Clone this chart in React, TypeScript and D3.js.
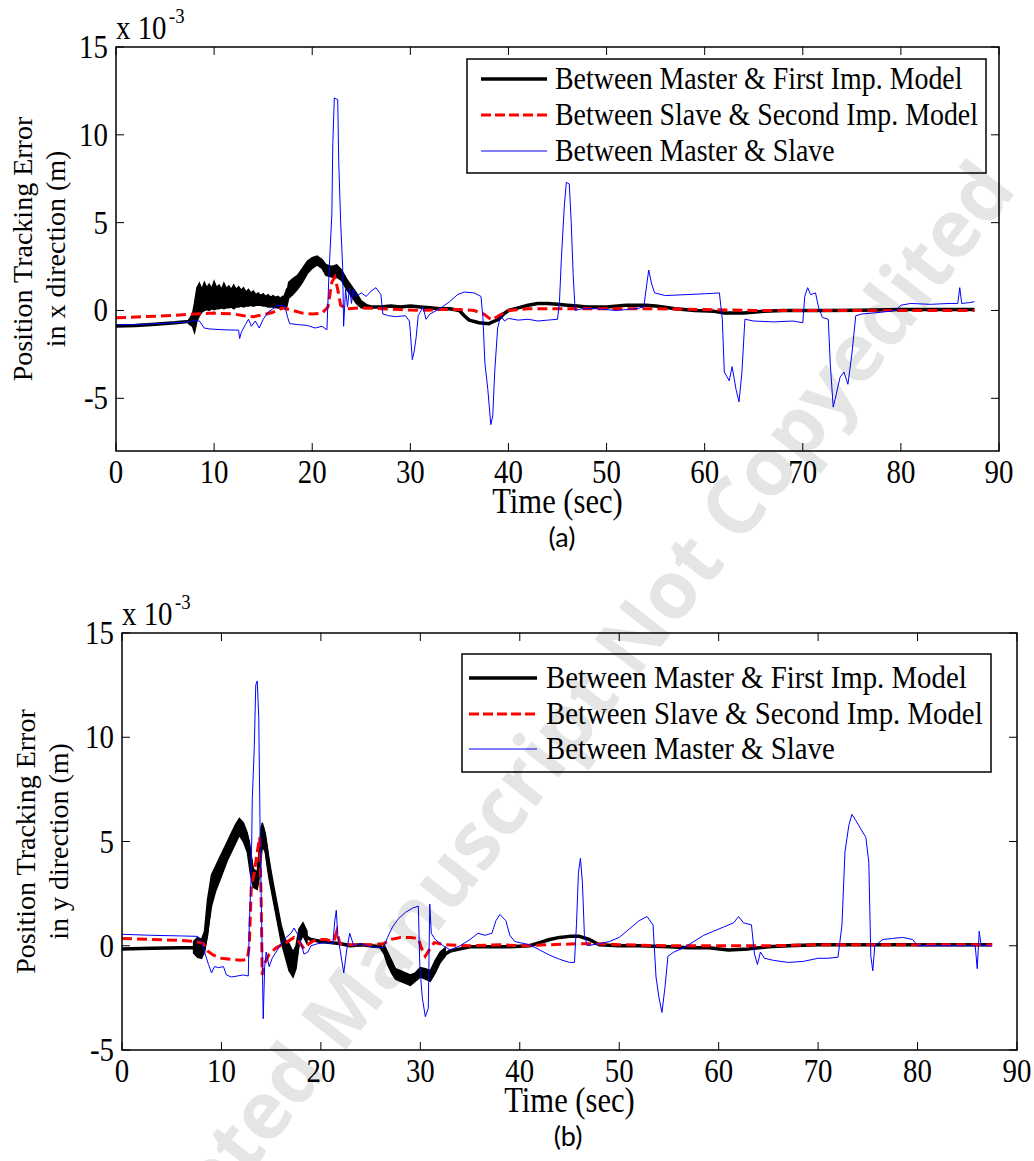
import React from "react";
import * as d3 from "d3";

type P2 = [number, number];
type P3 = [number, number, number];

const xTicks = [0, 10, 20, 30, 40, 50, 60, 70, 80, 90];
const yTicksA = [-5, 0, 5, 10, 15];
const yTicksB = [-5, 0, 5, 10, 15];
const legendLabels = [
  "Between Master & First Imp. Model",
  "Between Slave & Second Imp. Model",
  "Between Master & Slave",
];

// ---------- Panel (a): x direction ----------
const blackA: P2[] = [
  [0, -0.88], [2, -0.85], [4, -0.78], [6, -0.7], [7.5, -0.62], [8, -0.3], [8.5, 0.5], [9, 0.8],
  [10, 0.75], [11, 0.7], [12, 0.65], [13, 0.6], [14, 0.55], [15, 0.5], [16, 0.5], [17, 0.45],
  [17.5, 1.2], [18, 1.4], [18.5, 1.6], [19, 2.0], [19.5, 2.45], [20, 2.7], [20.5, 2.85], [21, 2.65],
  [21.4, 2.3], [22, 2.2], [22.5, 2.25], [23, 2.0], [23.5, 1.5], [24, 1.1], [24.5, 0.7], [25, 0.35],
  [26, 0.2], [27, 0.2], [28, 0.25], [29, 0.2], [30, 0.25], [31, 0.2], [32, 0.15], [33, 0.1],
  [34, 0.1], [35, 0.0], [35.5, -0.3], [36, -0.55], [37, -0.7], [38, -0.75], [39, -0.5], [39.5, -0.2],
  [40, 0], [41, 0.15], [42, 0.3], [43, 0.4], [44, 0.4], [45, 0.35], [46, 0.3], [47, 0.25], [48, 0.2],
  [50, 0.2], [52, 0.3], [54, 0.3], [55, 0.25], [57, 0.1], [59, 0.0], [61, -0.05], [62, -0.15],
  [64, -0.15], [66, -0.05], [68, 0], [72, 0.0], [76, 0.02], [80, 0.05], [84, 0.05], [87.5, 0.05],
];
const bandA1: P3[] = [
  [7.4, -0.75, -0.55], [7.8, -0.9, -0.2], [8.0, -1.25, 0.4], [8.25, -0.6, 1.3], [8.5, -0.3, 1.55],
  [8.75, -0.1, 1.2], [9.0, 0.0, 1.6], [9.25, 0.05, 1.3], [9.5, 0.0, 1.5], [9.75, 0.1, 1.25],
  [10, 0.05, 1.65], [10.25, 0.1, 1.3], [10.5, 0.1, 1.45], [10.75, 0.15, 1.2], [11, 0.1, 1.55],
  [11.25, 0.15, 1.25], [11.5, 0.15, 1.4], [11.75, 0.2, 1.2], [12, 0.1, 1.45], [12.25, 0.2, 1.2],
  [12.5, 0.2, 1.35], [12.75, 0.25, 1.15], [13, 0.2, 1.3], [13.25, 0.25, 1.05], [13.5, 0.25, 1.2],
  [13.75, 0.3, 1.0], [14, 0.25, 1.1], [14.25, 0.3, 0.9], [14.5, 0.3, 1.0], [14.75, 0.3, 0.85],
  [15, 0.25, 0.95], [15.25, 0.25, 0.8], [15.5, 0.2, 0.9], [15.75, 0.2, 0.75], [16, 0.2, 0.85],
  [16.25, 0.15, 0.75], [16.5, 0.15, 0.8], [16.75, 0.1, 0.7], [17, 0.1, 0.8], [17.25, 0.15, 0.75],
  [17.4, 0.2, 0.9], [17.6, 0.7, 1.6], [18, 0.9, 1.8], [18.5, 1.2, 2.0], [19, 1.6, 2.4],
  [19.5, 2.1, 2.8], [20, 2.4, 3.0], [20.5, 2.6, 3.1], [21, 2.4, 2.9], [21.4, 2.0, 2.6],
  [22, 1.9, 2.5], [22.5, 1.9, 2.6], [23, 1.7, 2.3], [23.5, 1.2, 1.8], [24, 0.8, 1.4],
  [24.5, 0.4, 1.0], [25, 0.15, 0.55], [25.5, 0.1, 0.35],
];
const redA: P2[] = [
  [0, -0.42], [3, -0.35], [6, -0.28], [8, -0.2], [10, -0.15], [12, -0.2], [13, -0.3], [14, -0.35],
  [15, -0.25], [16, -0.1], [17, 0.15], [18, 0.0], [19, -0.15], [20, -0.2], [21, -0.15], [21.6, 0.2],
  [22, 1.6], [22.3, 1.9], [22.6, 1.2], [22.9, 0.3], [23.5, 0.1], [25, 0.15], [27, 0.1], [29, 0.05],
  [31, 0.0], [33, 0.05], [35, 0.05], [36.5, 0.0], [37.5, -0.2], [38.3, -0.55], [39, -0.3], [40, 0.0],
  [42, 0.1], [45, 0.1], [50, 0.1], [55, 0.1], [60, 0.05], [65, 0.0], [70, 0.0], [75, 0.0], [80, 0.0],
  [85, 0.0], [87.5, 0.0],
];
const blueA: P2[] = [
  [0, -0.82], [3, -0.78], [6, -0.7], [7.5, -0.65], [8, -0.55], [8.5, -0.6], [9, -1.0], [9.5, -1.05],
  [11, -1.1], [12.5, -1.12], [12.6, -1.6], [12.8, -1.2], [13.2, -0.8], [13.5, -0.5], [13.8, -0.9],
  [14.2, -0.6], [14.6, -1.0], [15.0, -0.5], [15.5, -0.1], [16, 0.1], [16.5, 0.3], [17.2, 0.25],
  [17.5, -0.4], [17.7, -0.75], [18.5, -0.8], [19.5, -0.85], [20.3, -1.0], [21, -0.9], [21.5, -1.1],
  [21.7, 2.0], [22.0, 5.5], [22.1, 9.5], [22.25, 12.1], [22.6, 12.0], [22.7, 8.5], [22.9, 5.0],
  [23.1, 2.5], [23.2, -0.9], [23.4, 1.2], [23.6, 0.2], [23.8, 1.3], [24.0, 0.4], [24.2, 1.2],
  [24.5, 0.8], [25, 1.0], [25.5, 0.8], [26, 1.1], [26.5, 1.3], [27, 0.9], [27.2, -0.2], [27.8, -0.3],
  [28.5, -0.35], [29.5, -0.3], [29.9, -0.6], [30.0, -1.2], [30.2, -2.8], [30.4, -2.3], [30.6, -1.5],
  [30.8, -0.3], [31.0, -0.1], [31.3, 0.2], [31.6, -0.5], [32, -0.2], [33, 0.1], [34, 0.5], [34.8, 0.9],
  [35.5, 1.05], [36.5, 1.0], [37.2, 0.8], [37.4, -0.4], [37.6, -3.0], [37.9, -4.5], [38.2, -6.5],
  [38.4, -6.0], [38.6, -3.5], [38.9, -1.0], [39.2, -0.3], [39.6, -0.6], [40, -0.45], [41, -0.55],
  [42, -0.5], [43, -0.6], [44, -0.55], [45, -0.5], [45.2, 0.5], [45.4, 3.0], [45.7, 6.0], [45.9, 7.3],
  [46.2, 7.2], [46.4, 5.0], [46.6, 2.0], [46.8, 0.0], [47.5, 0.1], [49, 0.1], [51, 0.0], [53, 0.1],
  [53.8, 0.2], [54.1, 1.5], [54.3, 2.3], [54.6, 1.5], [54.9, 1.0], [56, 0.85], [58, 0.9], [60, 0.95],
  [61.5, 1.0], [61.8, -0.5], [62, -3.5], [62.5, -4.0], [62.8, -3.2], [63.2, -4.5], [63.5, -5.2],
  [63.8, -3.5], [64.1, -0.5], [65, -0.6], [67, -0.65], [69, -0.6], [70, -0.7], [70.2, 0.8],
  [70.5, 1.3], [70.8, 0.9], [71.3, 1.0], [71.6, 0.2], [72, -0.4], [72.6, -0.5], [72.8, -3.0],
  [73.1, -5.5], [73.4, -4.8], [73.8, -3.8], [74.2, -3.5], [74.6, -4.2], [75.0, -2.5], [75.4, -0.3],
  [76, -0.2], [78, -0.1], [79.5, 0.0], [80, 0.3], [81, 0.4], [83, 0.35], [85, 0.4], [85.8, 0.4],
  [86.0, 1.3], [86.2, 0.4], [87, 0.45], [87.5, 0.5],
];

// ---------- Panel (b): y direction ----------
const blackB: P2[] = [
  [0, -0.15], [3, -0.12], [6, -0.1], [7.3, -0.1], [7.8, 0.0], [8.2, -0.2], [8.5, 0.5], [8.8, 1.8],
  [9.2, 3.0], [9.6, 3.6], [10, 4.0], [10.5, 4.6], [11, 5.1], [11.5, 5.6], [11.9, 5.9], [12.3, 5.6],
  [12.7, 5.0], [13.0, 3.8], [13.2, 3.1], [13.6, 3.0], [13.9, 4.5], [14.1, 5.7], [14.4, 5.0],
  [14.8, 3.6], [15.2, 2.6], [15.6, 1.6], [16.0, 0.6], [16.4, -0.1], [16.8, -0.6], [17.2, -1.0],
  [17.5, -0.6], [17.8, 0.4], [18.2, 0.8], [18.6, 0.4], [19, 0.3], [20, 0.2], [21, 0.15], [22, 0.1],
  [23, 0.0], [24, 0.05], [25, 0.0], [26, -0.05], [26.5, -0.4], [27, -1.0], [27.5, -1.35],
  [28, -1.45], [28.5, -1.55], [29, -1.7], [29.5, -1.5], [30, -1.25], [30.5, -1.35], [31, -1.45],
  [31.5, -1.0], [32, -0.55], [33, -0.25], [34, -0.15], [35, -0.05], [37, -0.05], [39, -0.05],
  [41, 0.0], [42, 0.15], [43, 0.3], [44, 0.4], [45, 0.45], [46, 0.45], [47, 0.3], [48, 0.05],
  [50, 0.0], [52, 0.0], [55, -0.05], [57, -0.1], [59, -0.1], [61, -0.2], [63, -0.15], [65, -0.05],
  [67, 0.0], [70, 0.05], [73, 0.05], [76, 0.05], [80, 0.05], [84, 0.05], [87.5, 0.05],
];
const bandB1: P3[] = [
  [7.2, -0.35, 0.2], [7.6, -0.55, 0.4], [8.0, -0.6, 0.3], [8.3, -0.3, 0.7], [8.6, 0.6, 2.2],
  [9.0, 1.9, 3.4], [9.4, 2.6, 3.8], [9.8, 3.1, 4.2], [10.2, 3.6, 4.6], [10.6, 4.1, 5.0],
  [11, 4.5, 5.4], [11.4, 4.9, 5.8], [11.8, 5.3, 6.1], [12.2, 5.0, 5.9], [12.6, 4.5, 5.4],
  [12.9, 3.5, 4.6], [13.2, 2.8, 3.7], [13.6, 2.7, 3.5], [13.9, 3.6, 5.0], [14.1, 4.8, 5.9],
  [14.4, 4.5, 5.4], [14.8, 3.2, 4.1], [15.2, 2.2, 3.0], [15.6, 1.2, 2.0], [16.0, 0.2, 1.0],
  [16.4, -0.5, 0.3], [16.8, -1.2, 0.1], [17.2, -1.5, -0.3], [17.5, -1.1, 0.0], [17.8, 0.1, 0.8],
  [18.2, 0.5, 1.1], [18.6, 0.1, 0.7],
];
const bandB2: P3[] = [
  [26.3, -0.3, 0.1], [26.7, -0.9, -0.3], [27.1, -1.3, -0.7], [27.5, -1.6, -1.1], [28, -1.7, -1.2],
  [28.5, -1.8, -1.3], [29, -1.9, -1.4], [29.5, -1.7, -1.3], [30, -1.5, -1.05], [30.5, -1.6, -1.1],
  [31, -1.7, -1.2], [31.5, -1.3, -0.7], [32, -0.8, -0.3], [32.5, -0.5, -0.1],
];
const redB: P2[] = [
  [0, 0.35], [3, 0.3], [6, 0.25], [7.5, 0.2], [8.2, 0.1], [8.6, -0.25], [9.2, -0.45], [10, -0.6],
  [11, -0.65], [12, -0.7], [12.6, -0.65], [12.8, 0.0], [13.0, 2.8], [13.3, 3.5], [13.6, 4.5],
  [13.85, 5.2], [14.0, 2.0], [14.1, -1.4], [14.3, -0.9], [14.8, -0.4], [15.5, -0.1], [16.5, 0.15],
  [17.3, 0.4], [17.8, 0.2], [18.3, -0.15], [18.8, 0.1], [19.5, 0.3], [20.5, 0.3], [21.3, 0.2],
  [21.6, 0.7], [21.9, 0.1], [23, 0.05], [25, 0.05], [26.3, 0.1], [27, 0.3], [28, 0.4], [29, 0.4],
  [29.8, 0.35], [30.1, -0.1], [30.5, -0.5], [30.9, -0.2], [31.4, 0.15], [32.5, 0.05], [35, 0.0],
  [38, 0.05], [40, 0.0], [43, 0.05], [46, 0.1], [48, 0.1], [50, 0.05], [55, 0.0], [60, 0.0],
  [65, 0.0], [70, 0.05], [75, 0.05], [80, 0.05], [85, 0.05], [87.5, 0.05],
];
const blueB: P2[] = [
  [0, 0.55], [3, 0.5], [6, 0.47], [7.6, 0.45], [8.0, 0.2], [8.3, -0.3], [8.7, -0.9], [9.0, -1.3],
  [9.3, -1.0], [9.7, -1.05], [10.2, -1.0], [10.5, -1.4], [11, -1.5], [11.6, -1.45], [12.2, -1.4],
  [12.7, -1.45], [12.8, 1.0], [13.0, 3.5], [13.1, 7.0], [13.3, 9.5], [13.45, 12.5], [13.6, 12.7],
  [13.75, 11.0], [13.9, 5.0], [14.05, 1.0], [14.2, -3.5], [14.35, -1.0], [14.5, -0.3], [14.8, -1.0],
  [15.1, -0.6], [15.5, -0.3], [16.0, 0.1], [16.5, 0.4], [17.0, 0.6], [17.3, 0.85], [17.6, 0.6],
  [17.9, 0.3], [18.3, -0.4], [18.7, -0.3], [19.0, 0.0], [19.7, 0.1], [20.5, 0.15], [21.2, 0.1],
  [21.4, 1.2], [21.55, 1.7], [21.7, 0.5], [22.0, -0.4], [22.3, -1.3], [22.6, -0.2], [22.9, 0.6],
  [23.3, 0.0], [24, 0.1], [25, -0.05], [26.3, -0.1], [26.7, 0.4], [27.2, 0.9], [27.8, 1.3],
  [28.5, 1.6], [29.2, 1.8], [29.8, 1.9], [29.95, -1.0], [30.2, -2.5], [30.5, -3.4], [30.8, -3.0],
  [30.95, 2.0], [31.1, 0.6], [31.5, 0.3], [32.3, 0.0], [33, -0.2], [34, 0.0], [35, 0.3], [35.8, 0.6],
  [36.5, 0.5], [37.2, 0.6], [37.6, 1.2], [38.0, 1.5], [38.6, 1.2], [39.0, 0.5], [39.5, 0.2],
  [41, 0.05], [42, -0.2], [43, -0.45], [44, -0.65], [45, -0.8], [45.5, -0.8], [45.7, 1.0],
  [45.9, 3.5], [46.1, 4.2], [46.3, 3.0], [46.5, 0.5], [46.8, 0.0], [48, 0.1], [49, 0.2], [50, 0.4],
  [51, 0.8], [52, 1.2], [52.8, 1.4], [53.4, 1.0], [53.7, -1.5], [54.0, -2.5], [54.3, -3.2],
  [54.6, -2.0], [54.9, -0.5], [55.5, -0.3], [56.5, -0.1], [57.5, 0.2], [58.5, 0.5], [59.5, 0.7],
  [60.5, 0.9], [61.5, 1.1], [62, 1.4], [62.5, 1.1], [63.3, 1.0], [63.6, -0.4], [63.9, -0.9],
  [64.2, -0.3], [64.6, -0.6], [65.5, -0.7], [67, -0.8], [68.5, -0.75], [70, -0.6], [71, -0.6],
  [72, -0.55], [72.4, 1.0], [72.7, 4.5], [73.1, 5.8], [73.4, 6.3], [73.8, 6.0], [74.3, 5.6],
  [74.8, 5.2], [75.1, 4.0], [75.3, -0.5], [75.5, -1.2], [75.7, 0.0], [76.5, 0.3], [77.5, 0.35],
  [78.5, 0.4], [79.5, 0.3], [80.0, 0.0], [82, 0.0], [84, 0.0], [85.8, 0.0], [86.0, -1.1], [86.2, 0.7],
  [86.4, 0.0], [87.4, 0.0],
];

const SERIF = '"Liberation Serif","Times New Roman",Times,serif';

function STxt(props: {
  x: number; y: number; size: number; sx?: number; anchor?: string; rotate?: number;
  family?: string; children: React.ReactNode;
}) {
  const { x, y, size, sx = 0.85, anchor = "start", rotate = 0, family = SERIF, children } = props;
  return (
    <text
      transform={`translate(${x},${y}) rotate(${rotate}) scale(${sx},1)`}
      fontSize={size}
      fontFamily={family}
      textAnchor={anchor as any}
      fill="#000"
    >
      {children}
    </text>
  );
}

type Panel = {
  id: string;
  left: number; right: number; top: number; bottom: number;
  yDomain: [number, number];
  yTicks: number[];
  black: P2[]; bands: P3[][]; red: P2[]; blue: P2[];
  legend: { x0: number; x1: number; y0: number; y1: number; rows: number[]; lx0: number; lx1: number; tx: number; fs: number };
  ylabel2: string;
  ylab1: number; ylab2: number;
  caption: string; captionX: number;
};

const panels: Panel[] = [
  {
    id: "a", left: 116, right: 999, top: 47, bottom: 451, yDomain: [-8, 15], yTicks: yTicksA,
    black: blackA, bands: [bandA1], red: redA, blue: blueA,
    legend: { x0: 467, x1: 986, y0: 59, y1: 173, rows: [79, 115, 151], lx0: 481, lx1: 547, tx: 555, fs: 31 },
    ylabel2: "in x direction (m)", ylab1: 32, ylab2: 65, caption: "(a)", captionX: 562,
  },
  {
    id: "b", left: 122, right: 1017, top: 633, bottom: 1050, yDomain: [-5, 15], yTicks: yTicksB,
    black: blackB, bands: [bandB1, bandB2], red: redB, blue: blueB,
    legend: { x0: 462, x1: 991, y0: 654, y1: 772, rows: [678, 714, 749], lx0: 469, lx1: 537, tx: 546, fs: 32 },
    ylabel2: "in y direction (m)", ylab1: 35, ylab2: 68, caption: "(b)", captionX: 568,
  },
];

function PanelView({ c }: { c: Panel }) {
  const x = d3.scaleLinear().domain([0, 90]).range([c.left, c.right]);
  const y = d3.scaleLinear().domain(c.yDomain).range([c.bottom, c.top]);
  const line = d3.line<P2>().x((d) => x(d[0])).y((d) => y(d[1]));
  const area = d3.area<P3>().x((d) => x(d[0])).y0((d) => y(d[1])).y1((d) => y(d[2]));
  const tl = 8;
  const cy = (c.top + c.bottom) / 2;
  const L = c.legend;
  return (
    <g>
      <defs>
        <clipPath id={`clip-${c.id}`}>
          <rect x={c.left} y={c.top} width={c.right - c.left} height={c.bottom - c.top} />
        </clipPath>
      </defs>
      <g clipPath={`url(#clip-${c.id})`}>
        {c.bands.map((b, i) => (
          <path key={i} d={area(b) || ""} fill="#000" stroke="#000" strokeWidth={1.5} />
        ))}
        <path d={line(c.black) || ""} fill="none" stroke="#000" strokeWidth={3.5} strokeLinejoin="round" />
        <path d={line(c.red) || ""} fill="none" stroke="#ff0000" strokeWidth={3} strokeDasharray="10,5" />
        <path d={line(c.blue) || ""} fill="none" stroke="#0000ff" strokeWidth={1} />
      </g>
      <rect x={c.left} y={c.top} width={c.right - c.left} height={c.bottom - c.top} fill="none" stroke="#000" strokeWidth={1.5} />
      {xTicks.map((t) => (
        <g key={`xt${t}`}>
          <line x1={x(t)} x2={x(t)} y1={c.bottom} y2={c.bottom - tl} stroke="#000" strokeWidth={1} />
          <line x1={x(t)} x2={x(t)} y1={c.top} y2={c.top + tl} stroke="#000" strokeWidth={1} />
          <STxt x={x(t)} y={c.bottom + 32} size={34} anchor="middle">{String(t)}</STxt>
        </g>
      ))}
      {c.yTicks.map((t) => (
        <g key={`yt${t}`}>
          <line x1={c.left} x2={c.left + tl} y1={y(t)} y2={y(t)} stroke="#000" strokeWidth={1} />
          <line x1={c.right} x2={c.right - tl} y1={y(t)} y2={y(t)} stroke="#000" strokeWidth={1} />
          <STxt x={c.left - 8} y={y(t) + 11} size={34} anchor="end">{String(t)}</STxt>
        </g>
      ))}
      <STxt x={c.left} y={c.top - 8} size={34} anchor="start">x 10</STxt>
      <STxt x={c.left + 53} y={c.top - 24} size={22} anchor="start">-3</STxt>
      <STxt x={(c.left + c.right) / 2} y={c.bottom + 62} size={36} anchor="middle">Time (sec)</STxt>
      <STxt x={c.ylab1} y={cy} size={28} sx={1} rotate={-90} anchor="middle">Position Tracking Error</STxt>
      <STxt x={c.ylab2} y={cy} size={28} sx={1} rotate={-90} anchor="middle">{c.ylabel2}</STxt>
      <STxt x={c.captionX} y={c.bottom + 96} size={27} sx={1} anchor="middle" family='Lato,"Open Sans",sans-serif'>{c.caption}</STxt>
      <rect x={L.x0} y={L.y0} width={L.x1 - L.x0} height={L.y1 - L.y0} fill="#fff" stroke="#000" strokeWidth={1.5} />
      <line x1={L.lx0} x2={L.lx1} y1={L.rows[0]} y2={L.rows[0]} stroke="#000" strokeWidth={3.5} />
      <line x1={L.lx0} x2={L.lx1} y1={L.rows[1]} y2={L.rows[1]} stroke="#ff0000" strokeWidth={3} strokeDasharray="10,4" />
      <line x1={L.lx0} x2={L.lx1} y1={L.rows[2]} y2={L.rows[2]} stroke="#0000ff" strokeWidth={1} />
      {legendLabels.map((s, i) => (
        <STxt key={s} x={L.tx} y={L.rows[i] + 10} size={L.fs} sx={0.9}>{s}</STxt>
      ))}
    </g>
  );
}

export default function App() {
  return (
    <svg width={1034} height={1161} style={{ display: "block", position: "absolute", left: 0, top: 0, background: "#fff" }}>
      <rect x={0} y={0} width={1034} height={1161} fill="#fff" />
      {panels.map((p) => (
        <PanelView key={p.id} c={p} />
      ))}
      <text
        transform="translate(560,776) rotate(-52)"
        fontSize={80}
        fontWeight={700}
        fontFamily='"Open Sans",Lato,sans-serif'
        textAnchor="middle"
        fill="#000"
        fillOpacity={0.1}
      >
        Accepted Manuscript Not Copyedited
      </text>
    </svg>
  );
}
